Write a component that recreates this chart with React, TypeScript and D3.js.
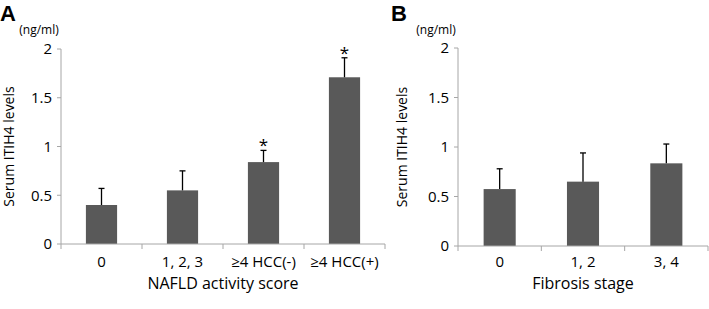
import React from "react";
import * as d3 from "d3";

const catsA = ["0", "1, 2, 3", "≥4 HCC(-)", "≥4 HCC(+)"];
const meanA = [0.4, 0.55, 0.84, 1.71];
const errA = [0.57, 0.75, 0.96, 1.91];
const starA = [false, false, true, true];

const catsB = ["0", "1, 2", "3, 4"];
const meanB = [0.575, 0.65, 0.835];
const errB = [0.78, 0.94, 1.03];
const starB = [false, false, false];

const yTicks = [0, 0.5, 1, 1.5, 2];

const FONT = "'Open Sans', sans-serif";
const BAR = "#595959";
const AXIS = "#a6a6a6";

type PanelProps = {
  letter: string;
  letterX: number;
  cats: string[];
  means: number[];
  errs: number[];
  stars: boolean[];
  x0: number;
  x1: number;
  y0: number;
  y1: number;
  xTitle: string;
  yLabelX: number;
};

function Panel(p: PanelProps) {
  const x = d3.scaleBand<string>().domain(p.cats).range([p.x0, p.x1]).paddingInner(0).paddingOuter(0);
  const y = d3.scaleLinear().domain([0, 2]).range([p.y0, p.y1]);
  const bw = x.bandwidth() * 0.385;
  const bounds = p.cats.map((c) => x(c)!).concat([p.x1]);
  return (
    <g>
      <text x={p.letterX} y={21} fontFamily="'Liberation Sans', Arial, sans-serif" fontWeight="bold" fontSize={22} fill="#000">
        {p.letter}
      </text>
      <text x={p.x0 - 22} y={34} textAnchor="middle" fontFamily={FONT} fontSize={12} fill="#000">
        (ng/ml)
      </text>
      {/* y axis */}
      <line x1={p.x0} x2={p.x0} y1={y(0)} y2={y(2)} stroke={AXIS} strokeWidth={1} />
      {yTicks.map((t) => (
        <g key={t}>
          <line x1={p.x0 - 4} x2={p.x0} y1={y(t)} y2={y(t)} stroke={AXIS} />
          <text x={p.x0 - 9} y={y(t)} dy="0.36em" textAnchor="end" fontFamily={FONT} fontSize={15} fill="#000">
            {t}
          </text>
        </g>
      ))}
      <text
        transform={`translate(${p.yLabelX},${(y(0) + y(2)) / 2}) rotate(-90)`}
        textAnchor="middle"
        dy="0.35em"
        fontFamily={FONT}
        fontSize={14}
        fill="#000"
      >
        Serum ITIH4 levels
      </text>
      {/* bars */}
      {p.cats.map((c, i) => {
        const cx = x(c)! + x.bandwidth() / 2;
        return (
          <g key={c}>
            <rect x={cx - bw / 2} y={y(p.means[i])} width={bw} height={y(0) - y(p.means[i])} fill={BAR} />
            <line x1={cx} x2={cx} y1={y(p.means[i])} y2={y(p.errs[i])} stroke="#000" strokeWidth={1.3} />
            <line x1={cx - 3} x2={cx + 3} y1={y(p.errs[i])} y2={y(p.errs[i])} stroke="#000" strokeWidth={1.3} />
            {p.stars[i] && (
              <text x={cx} y={y(p.errs[i]) + 1} textAnchor="middle" fontFamily={FONT} fontSize={17} fill="#000">
                *
              </text>
            )}
            <text x={cx} y={267} textAnchor="middle" fontFamily={FONT} fontSize={15} fill="#000">
              {c}
            </text>
          </g>
        );
      })}
      {/* x axis */}
      <line x1={p.x0} x2={p.x1} y1={y(0)} y2={y(0)} stroke={AXIS} strokeWidth={1} />
      {bounds.map((b, i) => (
        <line key={i} x1={b} x2={b} y1={y(0)} y2={y(0) + 5} stroke={AXIS} />
      ))}
      <text x={(p.x0 + p.x1) / 2} y={289} textAnchor="middle" fontFamily={FONT} fontSize={16} fill="#000">
        {p.xTitle}
      </text>
    </g>
  );
}

export default function App() {
  return (
    <svg width={709} height={309} style={{ position: "absolute", left: 0, top: 0, background: "#fff" }}>
      <rect width={709} height={309} fill="#fff" />
      <Panel
        letter="A"
        letterX={0}
        cats={catsA}
        means={meanA}
        errs={errA}
        stars={starA}
        x0={61}
        x1={385}
        y0={244}
        y1={49}
        xTitle="NAFLD activity score"
        yLabelX={9}
      />
      <Panel
        letter="B"
        letterX={391}
        cats={catsB}
        means={meanB}
        errs={errB}
        stars={starB}
        x0={458}
        x1={708}
        y0={246}
        y1={48}
        xTitle="Fibrosis stage"
        yLabelX={402}
      />
    </svg>
  );
}
